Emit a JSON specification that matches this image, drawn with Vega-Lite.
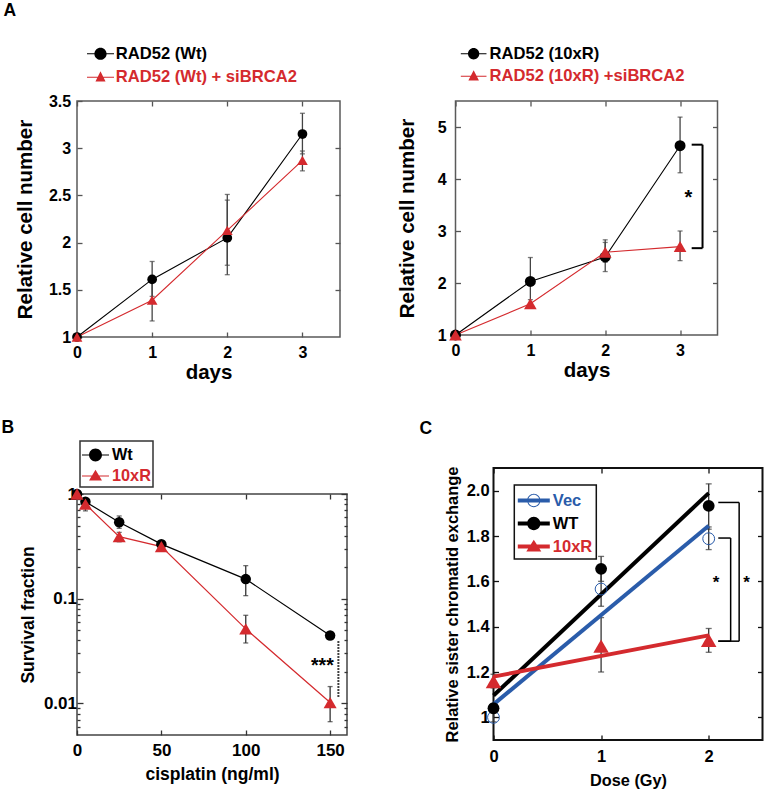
{
  "$schema": "https://vega.github.io/schema/vega-lite/v6.json",
  "padding": {"left": 0, "top": 0, "right": 0, "bottom": 0},
  "background": "white",
  "config": {
    "font": "Liberation Sans",
    "view": {"stroke": "#5a5a5a", "strokeWidth": 1.5},
    "axis": {"domain": false, "grid": false, "labelFont": "Liberation Sans", "titleFont": "Liberation Sans", "labelFontWeight": "bold", "titleFontWeight": "bold", "labelColor": "black", "titleColor": "black", "tickColor": "#555", "tickWidth": 1.3, "tickSize": -5, "labelFlush": false, "labelOverlap": false},
    "legend": {"labelFont": "Liberation Sans", "labelFontWeight": "bold", "padding": 0, "titlePadding": 0, "labelLimit": 400, "strokeWidth": 1.5},
    "title": {"anchor": "start", "frame": "group", "fontSize": 17.5, "fontWeight": "bold", "font": "Liberation Sans", "color": "black"}
  },
  "datasets": {
    "a1": [
      {"day": 0, "series": "RAD52 (Wt)", "value": 1.0, "lo": 1.0, "hi": 1.0},
      {"day": 1, "series": "RAD52 (Wt)", "value": 1.61, "lo": 1.43, "hi": 1.80},
      {"day": 2, "series": "RAD52 (Wt)", "value": 2.05, "lo": 1.66, "hi": 2.51},
      {"day": 3, "series": "RAD52 (Wt)", "value": 3.15, "lo": 2.94, "hi": 3.37},
      {"day": 0, "series": "RAD52 (Wt) + siBRCA2", "value": 1.0, "lo": 1.0, "hi": 1.0},
      {"day": 1, "series": "RAD52 (Wt) + siBRCA2", "value": 1.39, "lo": 1.17, "hi": 1.61},
      {"day": 2, "series": "RAD52 (Wt) + siBRCA2", "value": 2.13, "lo": 1.76, "hi": 2.45},
      {"day": 3, "series": "RAD52 (Wt) + siBRCA2", "value": 2.87, "lo": 2.76, "hi": 2.97}
    ],
    "a2": [
      {"day": 0, "series": "RAD52 (10xR)", "value": 1.0, "lo": 1.0, "hi": 1.0},
      {"day": 1, "series": "RAD52 (10xR)", "value": 2.03, "lo": 1.57, "hi": 2.49},
      {"day": 2, "series": "RAD52 (10xR)", "value": 2.5, "lo": 2.22, "hi": 2.83},
      {"day": 3, "series": "RAD52 (10xR)", "value": 4.64, "lo": 4.12, "hi": 5.19},
      {"day": 0, "series": "RAD52 (10xR) +siBRCA2", "value": 1.0, "lo": 1.0, "hi": 1.0},
      {"day": 1, "series": "RAD52 (10xR) +siBRCA2", "value": 1.6, "lo": 1.52, "hi": 1.68},
      {"day": 2, "series": "RAD52 (10xR) +siBRCA2", "value": 2.59, "lo": 2.4, "hi": 2.78},
      {"day": 3, "series": "RAD52 (10xR) +siBRCA2", "value": 2.70, "lo": 2.43, "hi": 3.0}
    ],
    "a2ann": [
      {"x1": 3.155, "x2": 3.30, "y1": 4.66, "y2": 4.66},
      {"x1": 3.30, "x2": 3.30, "y1": 4.66, "y2": 2.67},
      {"x1": 3.155, "x2": 3.30, "y1": 2.67, "y2": 2.67}
    ],
    "a2star": [{"x": 3.11, "y": 3.63, "label": "*"}],
    "b": [
      {"dose": 0, "series": "Wt", "value": 1.0, "lo": 0.97, "hi": 1.03},
      {"dose": 5, "series": "Wt", "value": 0.845, "lo": 0.8, "hi": 0.89},
      {"dose": 25, "series": "Wt", "value": 0.538, "lo": 0.47, "hi": 0.617},
      {"dose": 50, "series": "Wt", "value": 0.332, "lo": 0.31, "hi": 0.355},
      {"dose": 100, "series": "Wt", "value": 0.154, "lo": 0.107, "hi": 0.207},
      {"dose": 150, "series": "Wt", "value": 0.0445, "lo": 0.042, "hi": 0.047},
      {"dose": 0, "series": "10xR", "value": 1.0, "lo": 0.97, "hi": 1.03},
      {"dose": 5, "series": "10xR", "value": 0.80, "lo": 0.69, "hi": 0.9},
      {"dose": 25, "series": "10xR", "value": 0.392, "lo": 0.35, "hi": 0.43},
      {"dose": 50, "series": "10xR", "value": 0.315, "lo": 0.30, "hi": 0.33},
      {"dose": 100, "series": "10xR", "value": 0.0515, "lo": 0.0378, "hi": 0.0695},
      {"dose": 150, "series": "10xR", "value": 0.0102, "lo": 0.0067, "hi": 0.0145}
    ],
    "bann": [{"x": 154.9, "y1": 0.0392, "y2": 0.0113}],
    "bstar": [{"x": 145.4, "y": 0.0226, "label": "***"}],
    "c": [
      {"dose": 0, "series": "Vec", "value": 1.0, "lo": 0.98, "hi": 1.02},
      {"dose": 1, "series": "Vec", "value": 1.566, "lo": 1.49, "hi": 1.64},
      {"dose": 2, "series": "Vec", "value": 1.788, "lo": 1.74, "hi": 1.84},
      {"dose": 0, "series": "WT", "value": 1.04, "lo": 1.02, "hi": 1.06},
      {"dose": 1, "series": "WT", "value": 1.655, "lo": 1.6, "hi": 1.71},
      {"dose": 2, "series": "WT", "value": 1.933, "lo": 1.83, "hi": 2.03},
      {"dose": 0, "series": "10xR", "value": 1.158, "lo": 1.13, "hi": 1.19},
      {"dose": 1, "series": "10xR", "value": 1.314, "lo": 1.2, "hi": 1.44},
      {"dose": 2, "series": "10xR", "value": 1.34, "lo": 1.287, "hi": 1.392}
    ],
    "cann": [
      {"x1": 2.089, "x2": 2.204, "y1": 1.791, "y2": 1.791},
      {"x1": 2.204, "x2": 2.204, "y1": 1.791, "y2": 1.336},
      {"x1": 2.089, "x2": 2.204, "y1": 1.336, "y2": 1.336},
      {"x1": 2.089, "x2": 2.283, "y1": 1.948, "y2": 1.948},
      {"x1": 2.283, "x2": 2.283, "y1": 1.948, "y2": 1.336},
      {"x1": 2.089, "x2": 2.283, "y1": 1.336, "y2": 1.336}
    ],
    "cstar": [{"x": 2.068, "y": 1.594, "label": "*"}, {"x": 2.352, "y": 1.594, "label": "*"}]
  },
  "columns": 2,
  "align": "none",
  "spacing": {"row": 34, "column": 47.5},
  "resolve": {"scale": {"color": "independent"}, "legend": {"color": "independent"}},
  "concat": [
    {
      "width": 263, "height": 236,
      "title": {"text": "A", "dx": -73.5, "offset": 22.75},
      "view": {"stroke": "#5a5a5a", "strokeWidth": 1.5},
      "data": {"name": "a1"},
      "resolve": {"axis": {"x": "independent", "y": "independent"}},
      "layer": [
        {
          "mark": {"type": "errorbar", "ticks": true, "size": 5, "thickness": 1.3, "color": "#444"},
          "encoding": {
            "x": {"field": "day", "type": "quantitative", "axis": null},
            "y": {"field": "lo", "type": "quantitative", "axis": null},
            "y2": {"field": "hi"}
          }
        },
        {
          "mark": {"type": "line", "strokeWidth": 1.1},
          "encoding": {
            "x": {"field": "day", "type": "quantitative", "scale": {"domain": [0, 3.5], "nice": false, "zero": false},
              "axis": {"orient": "bottom", "values": [0, 1, 2, 3], "title": "days", "labelFontSize": 16, "labelPadding": 12, "titleFontSize": 20.5, "titlePadding": 2}},
            "y": {"field": "value", "type": "quantitative", "scale": {"domain": [1, 3.5], "nice": false, "zero": false},
              "axis": {"orient": "left", "values": [1, 1.5, 2, 2.5, 3, 3.5], "format": "~g", "title": "Relative cell number", "labelFontSize": 16, "labelPadding": 11.3, "titleFontSize": 20.5, "titlePadding": 13.4}},
            "color": {"field": "series", "type": "nominal",
              "scale": {"domain": ["RAD52 (Wt)", "RAD52 (Wt) + siBRCA2"], "range": ["black", "#d42a2e"]},
              "legend": {"orient": "none", "legendX": 11.5, "legendY": -59.25, "direction": "vertical", "title": null, "symbolSize": 576, "labelFontSize": 16.6, "labelOffset": 3.2, "rowPadding": 2.5, "symbolStrokeWidth": 0, "symbolOpacity": 1,
                "symbolType": {"expr": "datum.value === 'RAD52 (Wt)' ? 'M-1.125,-0.05H1.125V0.05H-1.125ZM0.51,0A0.51,0.51,0,1,1,-0.51,0A0.51,0.51,0,1,1,0.51,0Z' : 'M-1.125,-0.05H1.125V0.05H-1.125ZM0,-0.5L0.42,0.36L-0.42,0.36Z'"},
                "symbolFillColor": {"expr": "datum.value === 'RAD52 (Wt)' ? 'black' : '#d42a2e'"},
                "labelColor": {"expr": "datum.value === 'RAD52 (Wt)' ? 'black' : '#d42a2e'"}}}
          }
        },
        {
          "transform": [{"filter": "datum.series === 'RAD52 (Wt)'"}],
          "mark": {"type": "point", "shape": "circle", "filled": true, "opacity": 1, "size": 95, "color": "black"},
          "encoding": {
            "x": {"field": "day", "type": "quantitative", "axis": {"orient": "top", "values": [0, 1, 2, 3], "labels": false, "title": null}},
            "y": {"field": "value", "type": "quantitative", "axis": {"orient": "right", "values": [1.5, 2, 2.5, 3], "labels": false, "title": null}}
          }
        },
        {
          "transform": [{"filter": "datum.series === 'RAD52 (Wt) + siBRCA2'"}],
          "mark": {"type": "point", "shape": "triangle-up", "filled": true, "opacity": 1, "size": 115, "color": "#d42a2e"},
          "encoding": {
            "x": {"field": "day", "type": "quantitative", "axis": null},
            "y": {"field": "value", "type": "quantitative", "axis": null}
          }
        }
      ]
    },
    {
      "width": 262, "height": 234,
      "title": {"text": " ", "offset": 19.75},
      "view": {"stroke": "#5a5a5a", "strokeWidth": 1.5},
      "resolve": {"axis": {"x": "independent", "y": "independent"}},
      "layer": [
        {
          "data": {"name": "a2"},
          "mark": {"type": "errorbar", "ticks": true, "size": 5, "thickness": 1.3, "color": "#444"},
          "encoding": {
            "x": {"field": "day", "type": "quantitative", "axis": null},
            "y": {"field": "lo", "type": "quantitative", "axis": null},
            "y2": {"field": "hi"}
          }
        },
        {
          "data": {"name": "a2"},
          "mark": {"type": "line", "strokeWidth": 1.1},
          "encoding": {
            "x": {"field": "day", "type": "quantitative", "scale": {"domain": [0, 3.5], "nice": false, "zero": false},
              "axis": {"orient": "bottom", "values": [0, 1, 2, 3], "title": "days", "labelFontSize": 16, "labelPadding": 12.7, "titleFontSize": 20.5, "titlePadding": 2}},
            "y": {"field": "value", "type": "quantitative", "scale": {"domain": [1, 5.5], "nice": false, "zero": false},
              "axis": {"orient": "left", "values": [1, 2, 3, 4, 5], "format": "~g", "title": "Relative cell number", "labelFontSize": 16, "labelPadding": 14.4, "titleFontSize": 20.5, "titlePadding": 19.7}},
            "color": {"field": "series", "type": "nominal",
              "scale": {"domain": ["RAD52 (10xR)", "RAD52 (10xR) +siBRCA2"], "range": ["black", "#d42a2e"]},
              "legend": {"orient": "none", "legendX": 6.15, "legendY": -59.25, "direction": "vertical", "title": null, "symbolSize": 576, "labelFontSize": 16.6, "labelOffset": 3.85, "rowPadding": 1.5, "symbolStrokeWidth": 0, "symbolOpacity": 1,
                "symbolType": {"expr": "datum.value === 'RAD52 (10xR)' ? 'M-1.07,-0.05H1.07V0.05H-1.07ZM0.47,0A0.47,0.47,0,1,1,-0.47,0A0.47,0.47,0,1,1,0.47,0Z' : 'M-1.07,-0.05H1.07V0.05H-1.07ZM0,-0.5L0.44,0.36L-0.44,0.36Z'"},
                "symbolFillColor": {"expr": "datum.value === 'RAD52 (10xR)' ? 'black' : '#d42a2e'"},
                "labelColor": {"expr": "datum.value === 'RAD52 (10xR)' ? 'black' : '#d42a2e'"}}}
          }
        },
        {
          "data": {"name": "a2"},
          "transform": [{"filter": "datum.series === 'RAD52 (10xR)'"}],
          "mark": {"type": "point", "shape": "circle", "filled": true, "opacity": 1, "size": 120, "color": "black"},
          "encoding": {
            "x": {"field": "day", "type": "quantitative", "axis": {"orient": "top", "values": [0, 1, 2, 3], "labels": false, "title": null}},
            "y": {"field": "value", "type": "quantitative", "axis": {"orient": "right", "values": [2, 3, 4, 5], "labels": false, "title": null}}
          }
        },
        {
          "data": {"name": "a2"},
          "transform": [{"filter": "datum.series === 'RAD52 (10xR) +siBRCA2'"}],
          "mark": {"type": "point", "shape": "triangle-up", "filled": true, "opacity": 1, "size": 160, "color": "#d42a2e"},
          "encoding": {
            "x": {"field": "day", "type": "quantitative", "axis": null},
            "y": {"field": "value", "type": "quantitative", "axis": null}
          }
        },
        {
          "data": {"name": "a2ann"},
          "mark": {"type": "rule", "strokeWidth": 2, "color": "black"},
          "encoding": {
            "x": {"field": "x1", "type": "quantitative", "axis": null},
            "x2": {"field": "x2"},
            "y": {"field": "y1", "type": "quantitative", "axis": null},
            "y2": {"field": "y2"}
          }
        },
        {
          "data": {"name": "a2star"},
          "mark": {"type": "text", "fontSize": 20, "fontWeight": "bold", "align": "center", "baseline": "middle", "color": "black"},
          "encoding": {
            "x": {"field": "x", "type": "quantitative", "axis": null},
            "y": {"field": "y", "type": "quantitative", "axis": null},
            "text": {"field": "label"}
          }
        }
      ]
    },
    {
      "width": 270, "height": 241,
      "title": {"text": "B", "dx": -75.5, "offset": 3.7},
      "view": {"stroke": "#444", "strokeWidth": 1.5},
      "resolve": {"axis": {"x": "independent", "y": "independent"}},
      "layer": [
        {
          "data": {"name": "b"},
          "mark": {"type": "errorbar", "ticks": true, "size": 5, "thickness": 1.3, "color": "#333"},
          "encoding": {
            "x": {"field": "dose", "type": "quantitative", "axis": null},
            "y": {"field": "lo", "type": "quantitative", "axis": null},
            "y2": {"field": "hi"}
          }
        },
        {
          "data": {"name": "b"},
          "mark": {"type": "line", "strokeWidth": 1.2},
          "encoding": {
            "x": {"field": "dose", "type": "quantitative", "scale": {"domain": [0, 160], "nice": false, "zero": false},
              "axis": {"orient": "bottom", "values": [0, 50, 100, 150], "title": "cisplatin (ng/ml)", "labelFontSize": 17, "labelPadding": 12.2, "titleFontSize": 17.5, "titlePadding": 7.5, "tickColor": "#333"}},
            "y": {"field": "value", "type": "quantitative", "scale": {"type": "log", "domain": [0.005, 1], "nice": false},
              "axis": {"orient": "left", "values": [0.01, 0.1, 1], "format": "~g", "title": "Survival fraction", "labelFontSize": 17, "labelPadding": 6.5, "titleFontSize": 17.5, "titlePadding": 6, "tickColor": "#333", "tickSize": -6}},
            "color": {"field": "series", "type": "nominal",
              "scale": {"domain": ["Wt", "10xR"], "range": ["black", "#d42a2e"]},
              "legend": {"orient": "none", "legendX": 3, "legendY": -53, "direction": "vertical", "title": null, "symbolSize": 576, "labelFontSize": 16.3, "labelOffset": 6, "rowPadding": 0, "padding": 2, "strokeColor": "#333", "fillColor": "white", "symbolStrokeWidth": 0, "symbolOpacity": 1,
                "symbolType": {"expr": "datum.value === 'Wt' ? 'M-1,-0.05H1.25V0.05H-1ZM0.665,0A0.54,0.54,0,1,1,-0.415,0A0.54,0.54,0,1,1,0.665,0Z' : 'M-1,-0.05H1.25V0.05H-1ZM0.125,-0.52L0.665,0.38L-0.415,0.38Z'"},
                "symbolFillColor": {"expr": "datum.value === 'Wt' ? 'black' : '#d42a2e'"},
                "labelColor": {"expr": "datum.value === 'Wt' ? 'black' : '#d42a2e'"}}}
          }
        },
        {
          "data": {"name": "b"},
          "transform": [{"filter": "datum.series === 'Wt'"}],
          "mark": {"type": "point", "shape": "circle", "filled": true, "opacity": 1, "size": 110, "color": "black"},
          "encoding": {
            "x": {"field": "dose", "type": "quantitative", "axis": {"orient": "top", "values": [50, 100, 150], "labels": false, "title": null, "tickColor": "#333"}},
            "y": {"field": "value", "type": "quantitative", "axis": {"orient": "right", "values": [0.01, 0.1, 1], "labels": false, "title": null, "tickColor": "#333", "tickSize": -6}}
          }
        },
        {
          "data": {"name": "b"},
          "transform": [{"filter": "datum.series === '10xR'"}],
          "mark": {"type": "point", "shape": "triangle-up", "filled": true, "opacity": 1, "size": 170, "color": "#d42a2e"},
          "encoding": {
            "x": {"field": "dose", "type": "quantitative", "axis": null},
            "y": {"field": "value", "type": "quantitative", "axis": null}
          }
        },
        {
          "data": {"name": "bann"},
          "mark": {"type": "rule", "strokeWidth": 2, "strokeDash": [1.5, 1.5], "color": "black"},
          "encoding": {
            "x": {"field": "x", "type": "quantitative", "axis": null},
            "y": {"field": "y1", "type": "quantitative", "axis": {"orient": "left", "values": [0.006, 0.007, 0.008, 0.009, 0.02, 0.03, 0.04, 0.05, 0.06, 0.07, 0.08, 0.09, 0.2, 0.3, 0.4, 0.5, 0.6, 0.7, 0.8, 0.9], "labels": false, "title": null, "tickSize": -3, "tickColor": "#333"}},
            "y2": {"field": "y2"}
          }
        },
        {
          "data": {"name": "bstar"},
          "mark": {"type": "text", "fontSize": 19.5, "fontWeight": "bold", "align": "center", "baseline": "middle", "color": "black"},
          "encoding": {
            "x": {"field": "x", "type": "quantitative", "axis": null},
            "y": {"field": "y", "type": "quantitative", "axis": {"orient": "right", "values": [0.006, 0.007, 0.008, 0.009, 0.02, 0.03, 0.04, 0.05, 0.06, 0.07, 0.08, 0.09, 0.2, 0.3, 0.4, 0.5, 0.6, 0.7, 0.8, 0.9], "labels": false, "title": null, "tickSize": -3, "tickColor": "#333"}},
            "text": {"field": "label"}
          }
        }
      ]
    },
    {
      "width": 269, "height": 272,
      "title": {"text": "C", "dx": -74, "offset": 28.7},
      "view": {"stroke": "#111", "strokeWidth": 2},
      "resolve": {"axis": {"x": "independent", "y": "independent"}},
      "layer": [
        {
          "data": {"name": "c"},
          "mark": {"type": "errorbar", "ticks": true, "size": 6, "thickness": 1.3, "color": "#333"},
          "encoding": {
            "x": {"field": "dose", "type": "quantitative", "axis": null},
            "y": {"field": "lo", "type": "quantitative", "axis": null},
            "y2": {"field": "hi"}
          }
        },
        {
          "data": {"name": "c"},
          "transform": [{"regression": "value", "on": "dose", "groupby": ["series"], "extent": [0, 2]}],
          "mark": {"type": "line", "strokeWidth": 4},
          "encoding": {
            "x": {"field": "dose", "type": "quantitative", "scale": {"domain": [0, 2.5], "nice": false, "zero": false},
              "axis": {"orient": "bottom", "values": [0, 1, 2], "title": "Dose (Gy)", "labelFontSize": 16.5, "labelPadding": 13.7, "titleFontSize": 16.3, "titlePadding": 7, "tickColor": "#111"}},
            "y": {"field": "value", "type": "quantitative", "scale": {"domain": [0.9, 2.1], "nice": false, "zero": false},
              "axis": {"orient": "left", "values": [1, 1.2, 1.4, 1.6, 1.8, 2.0], "labelExpr": "datum.value === 1 ? '1\u00a0\u00a0' : format(datum.value, '.1f')", "title": "Relative sister chromatid exchange", "labelFontSize": 16.5, "labelPadding": 9.4, "titleFontSize": 16.45, "titlePadding": 6, "tickColor": "#111"}},
            "color": {"field": "series", "type": "nominal",
              "scale": {"domain": ["Vec", "WT", "10xR"], "range": ["#2a5caa", "black", "#d42a2e"]},
              "legend": {"orient": "none", "legendX": 20.8, "legendY": 17, "direction": "vertical", "title": null, "symbolSize": 576, "labelFontSize": 16.5, "labelOffset": 11, "rowPadding": 2, "padding": 3.5, "strokeColor": "#111", "fillColor": "white", "symbolStrokeWidth": 0, "symbolOpacity": 1,
                "symbolType": {"expr": "datum.value === 'Vec' ? 'M-1,-0.167H1.667V0.167H-1ZM0.887,0A0.554,0.554,0,1,1,-0.221,0A0.554,0.554,0,1,1,0.887,0ZM0.803,0A0.47,0.47,0,1,0,-0.137,0A0.47,0.47,0,1,0,0.803,0Z' : datum.value === 'WT' ? 'M-1,-0.167H1.667V0.167H-1ZM0.887,0A0.554,0.554,0,1,1,-0.221,0A0.554,0.554,0,1,1,0.887,0Z' : 'M-1,-0.167H1.667V0.167H-1ZM0.333,-0.56L0.958,0.42L-0.292,0.42Z'"},
                "symbolFillColor": {"expr": "datum.value === 'Vec' ? '#2a5caa' : datum.value === 'WT' ? 'black' : '#d42a2e'"},
                "labelColor": {"expr": "datum.value === 'Vec' ? '#2a5caa' : datum.value === 'WT' ? 'black' : '#d42a2e'"}}}
          }
        },
        {
          "data": {"name": "c"},
          "transform": [{"filter": "datum.series === 'Vec'"}],
          "mark": {"type": "point", "shape": "circle", "filled": false, "strokeWidth": 1, "opacity": 1, "size": 140, "color": "#2a5caa"},
          "encoding": {
            "x": {"field": "dose", "type": "quantitative", "axis": {"orient": "top", "values": [0, 1, 2], "labels": false, "title": null, "tickColor": "#111"}},
            "y": {"field": "value", "type": "quantitative", "axis": {"orient": "right", "values": [1, 1.2, 1.4, 1.6, 1.8, 2.0], "labels": false, "title": null, "tickColor": "#111"}}
          }
        },
        {
          "data": {"name": "c"},
          "transform": [{"filter": "datum.series === 'WT'"}],
          "mark": {"type": "point", "shape": "circle", "filled": true, "opacity": 1, "size": 140, "color": "black"},
          "encoding": {
            "x": {"field": "dose", "type": "quantitative", "axis": null},
            "y": {"field": "value", "type": "quantitative", "axis": null}
          }
        },
        {
          "data": {"name": "c"},
          "transform": [{"filter": "datum.series === '10xR'"}],
          "mark": {"type": "point", "shape": "triangle-up", "filled": true, "opacity": 1, "size": 240, "color": "#d42a2e"},
          "encoding": {
            "x": {"field": "dose", "type": "quantitative", "axis": null},
            "y": {"field": "value", "type": "quantitative", "axis": null}
          }
        },
        {
          "data": {"name": "cann"},
          "mark": {"type": "rule", "strokeWidth": 1.5, "color": "black"},
          "encoding": {
            "x": {"field": "x1", "type": "quantitative", "axis": null},
            "x2": {"field": "x2"},
            "y": {"field": "y1", "type": "quantitative", "axis": {"orient": "left", "labels": false, "ticks": false, "title": " ", "titleFontSize": 10, "titlePadding": 85.2}},
            "y2": {"field": "y2"}
          }
        },
        {
          "data": {"name": "cstar"},
          "mark": {"type": "text", "fontSize": 17, "fontWeight": "bold", "align": "center", "baseline": "middle", "color": "black"},
          "encoding": {
            "x": {"field": "x", "type": "quantitative", "axis": null},
            "y": {"field": "y", "type": "quantitative", "axis": null},
            "text": {"field": "label"}
          }
        }
      ]
    }
  ]
}
